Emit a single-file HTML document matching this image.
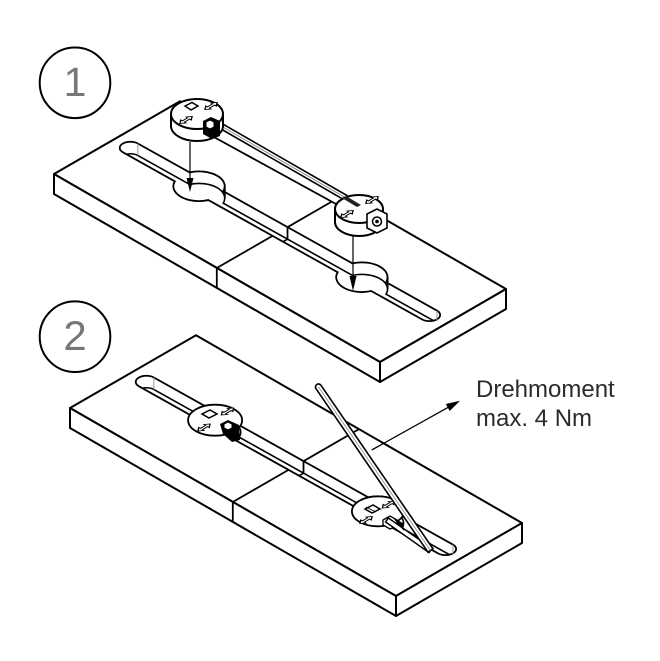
<!DOCTYPE html>
<html><head><meta charset="utf-8"><style>
html,body{margin:0;padding:0;background:#fff;width:660px;height:661px;overflow:hidden}
svg{display:block}
text{font-family:"Liberation Sans",Arial,sans-serif}
</style></head><body>
<svg width="660" height="661" viewBox="0 0 660 661" xmlns="http://www.w3.org/2000/svg">
<defs>
<clipPath id="hc"><path transform="matrix(0.866 0.5 0.866 -0.5 54 174) translate(18 70.2) rotate(0.945)" d="M0,8.7 L58.9,8.7 A21,21 0 0,0 97.1,8.7 L243.9,8.7 A21,21 0 0,0 282.1,8.7 L339.8,8.7 A8.7,8.7 0 0,0 339.8,-8.7 L282.1,-8.7 A21,21 0 0,0 243.9,-8.7 L97.1,-8.7 A21,21 0 0,0 58.9,-8.7 L0,-8.7 A8.7,8.7 0 0,0 0,8.7 Z"/></clipPath>
<path id="ag" d="M-7,0 L-3,-3 L-3,-1.2 L3,-1.2 L3,-3 L7,0 L3,3 L3,1.2 L-3,1.2 L-3,3 Z"/>
</defs>

<!-- circles with numbers -->
<circle cx="75" cy="82.8" r="35.3" fill="none" stroke="#000" stroke-width="2"/>
<text x="75" y="96" font-size="41" fill="#777" text-anchor="middle">1</text>
<circle cx="75" cy="336.7" r="35.3" fill="none" stroke="#000" stroke-width="2"/>
<text x="75" y="350" font-size="42" fill="#777" text-anchor="middle">2</text>

<!-- ================= PANEL 1 ================= -->
<g fill="#fff" stroke="#000" stroke-width="2" stroke-linejoin="round">
<polygon points="54,174 180,101.3 506,289 380,362"/>
<polygon points="54,174 380,362 380,382 54,194"/>
<polygon points="380,362 506,289 506,309 380,382"/>
</g>
<path transform="matrix(0.866 0.5 0.866 -0.5 54 174) translate(18 70.2) rotate(0.945)" vector-effect="non-scaling-stroke" fill="#fff" stroke="#000" stroke-width="1.8" d="M0,8.7 L58.9,8.7 A21,21 0 0,0 97.1,8.7 L243.9,8.7 A21,21 0 0,0 282.1,8.7 L339.8,8.7 A8.7,8.7 0 0,0 339.8,-8.7 L282.1,-8.7 A21,21 0 0,0 243.9,-8.7 L97.1,-8.7 A21,21 0 0,0 58.9,-8.7 L0,-8.7 A8.7,8.7 0 0,0 0,8.7 Z"/>
<g clip-path="url(#hc)">
<path transform="translate(0 12) matrix(0.866 0.5 0.866 -0.5 54 174) translate(18 70.2) rotate(0.945)" vector-effect="non-scaling-stroke" fill="none" stroke="#000" stroke-width="1.6" d="M0,8.7 L58.9,8.7 A21,21 0 0,0 97.1,8.7 L243.9,8.7 A21,21 0 0,0 282.1,8.7 L339.8,8.7 A8.7,8.7 0 0,0 339.8,-8.7 L282.1,-8.7 A21,21 0 0,0 243.9,-8.7 L97.1,-8.7 A21,21 0 0,0 58.9,-8.7 L0,-8.7 A8.7,8.7 0 0,0 0,8.7 Z"/>
<line x1="287.5" y1="239.2" x2="272" y2="248" stroke="#000" stroke-width="1.6"/>
</g>
<g stroke="#000" stroke-width="1.8" fill="none">
<line x1="224.8" y1="186.2" x2="224.8" y2="198.2"/>
<line x1="387.6" y1="277.3" x2="387.6" y2="289.3"/>
<line x1="216.8" y1="268" x2="216.8" y2="288"/>
<line x1="216.8" y1="268" x2="272.5" y2="235.9"/>
<line x1="287.5" y1="227.2" x2="331.7" y2="201.6"/>
<line x1="287.5" y1="227.2" x2="287.5" y2="239.2"/>
<line x1="212" y1="136" x2="336" y2="204"/>
</g>
<g stroke="#999" stroke-width="1">
<line x1="137.8" y1="143.5" x2="137.8" y2="155.5"/>
<line x1="436.9" y1="310.6" x2="436.9" y2="321"/>
</g>
<!-- rod -->
<polygon points="221,123 347,195.5 347,201.5 221,129" fill="#fff" stroke="#000" stroke-width="1.6"/>
<line x1="221" y1="126" x2="347" y2="198.5" stroke="#777" stroke-width="0.8"/>

<!-- puck 1 -->
<path d="M171,114 L171,126 A26,15 0 0,0 223,126 L223,114" fill="#fff" stroke="#000" stroke-width="2"/>
<ellipse cx="197" cy="114" rx="26" ry="15" fill="#fff" stroke="#000" stroke-width="2"/>
<polygon points="203,121 211,117 220,121 220,136 212,139 203,134" fill="#000"/>
<polygon points="206,122 210,120 214,122 214,127 210,129 206,127" fill="#fff" stroke="#000" stroke-width="1"/>
<polygon points="185,106 192,102.5 198,106 191,110" fill="#fff" stroke="#000" stroke-width="1.5"/>
<use href="#ag" transform="translate(211 106) matrix(0.87 -0.5 0.87 0.5 0 0)" fill="#fff" stroke="#000" stroke-width="1.1"/>
<use href="#ag" transform="translate(186 120) matrix(0.87 -0.5 0.87 0.5 0 0)" fill="#fff" stroke="#000" stroke-width="1.1"/>

<!-- puck 2 -->
<path d="M335,209 L335,222 A24,14 0 0,0 383,222 L383,209" fill="#fff" stroke="#000" stroke-width="2"/>
<ellipse cx="359" cy="209" rx="24" ry="14" fill="#fff" stroke="#000" stroke-width="2"/>
<polygon points="342,198 346,196 361,205 357,207" fill="#222"/>
<use href="#ag" transform="translate(372 200) matrix(0.87 -0.5 0.87 0.5 0 0)" fill="#fff" stroke="#000" stroke-width="1.1"/>
<use href="#ag" transform="translate(347 214) matrix(0.87 -0.5 0.87 0.5 0 0)" fill="#fff" stroke="#000" stroke-width="1.1"/>
<polygon points="367,214 377,209 387,214 387,228 377,233 367,228" fill="#fff" stroke="#000" stroke-width="1.6"/>
<circle cx="377" cy="221.5" r="4.5" fill="#fff" stroke="#000" stroke-width="1.5"/>
<circle cx="377" cy="221.5" r="1.8" fill="#000"/>

<!-- arrows panel 1 -->
<line x1="190" y1="142" x2="190" y2="180" stroke="#000" stroke-width="1.2"/>
<polygon points="186.5,178 193.5,178 190,192" fill="#000"/>
<line x1="353" y1="236" x2="353" y2="278" stroke="#000" stroke-width="1.2"/>
<polygon points="349.5,276 356.5,276 353,291" fill="#000"/>

<!-- ================= PANEL 2 ================= -->
<g transform="translate(16 234)">
<g fill="#fff" stroke="#000" stroke-width="2" stroke-linejoin="round">
<polygon points="54,174 180,101.3 506,289 380,362"/>
<polygon points="54,174 380,362 380,382 54,194"/>
<polygon points="380,362 506,289 506,309 380,382"/>
</g>
<path transform="matrix(0.866 0.5 0.866 -0.5 54 174) translate(18 70.2) rotate(0.945)" vector-effect="non-scaling-stroke" fill="#fff" stroke="#000" stroke-width="1.8" d="M0,8.7 L58.9,8.7 A21,21 0 0,0 97.1,8.7 L243.9,8.7 A21,21 0 0,0 282.1,8.7 L339.8,8.7 A8.7,8.7 0 0,0 339.8,-8.7 L282.1,-8.7 A21,21 0 0,0 243.9,-8.7 L97.1,-8.7 A21,21 0 0,0 58.9,-8.7 L0,-8.7 A8.7,8.7 0 0,0 0,8.7 Z"/>
<g clip-path="url(#hc)">
<path transform="translate(0 12) matrix(0.866 0.5 0.866 -0.5 54 174) translate(18 70.2) rotate(0.945)" vector-effect="non-scaling-stroke" fill="none" stroke="#000" stroke-width="1.6" d="M0,8.7 L58.9,8.7 A21,21 0 0,0 97.1,8.7 L243.9,8.7 A21,21 0 0,0 282.1,8.7 L339.8,8.7 A8.7,8.7 0 0,0 339.8,-8.7 L282.1,-8.7 A21,21 0 0,0 243.9,-8.7 L97.1,-8.7 A21,21 0 0,0 58.9,-8.7 L0,-8.7 A8.7,8.7 0 0,0 0,8.7 Z"/>
<line x1="287.5" y1="239.2" x2="272" y2="248" stroke="#000" stroke-width="1.6"/>
</g>
<g stroke="#000" stroke-width="1.8" fill="none">
<line x1="216.8" y1="268" x2="216.8" y2="288"/>
<line x1="216.8" y1="268" x2="272.5" y2="235.9"/>
<line x1="287.5" y1="227.2" x2="343.2" y2="195"/>
<line x1="287.5" y1="227.2" x2="287.5" y2="239.2"/>
</g>
<g stroke="#999" stroke-width="1">
<line x1="137.8" y1="143.5" x2="137.8" y2="155.5"/>
<line x1="436.9" y1="310.6" x2="436.9" y2="321"/>
</g>
<!-- left puck (inserted) -->
<ellipse cx="199.1" cy="186.2" rx="27" ry="15.5" fill="#fff" stroke="#000" stroke-width="1.8"/>
<polygon points="204,190 212,186 223,191 224,206 216,208 207,200" fill="#000"/>
<polygon points="208,190 212,188 216,190 216,194 212,196 208,194" fill="#fff" stroke="#000" stroke-width="1"/>
<polygon points="186,180 194,176 201,180 193,184" fill="#fff" stroke="#000" stroke-width="1.5"/>
<use href="#ag" transform="translate(211.5 177.5) matrix(0.87 -0.5 0.87 0.5 0 0)" fill="#fff" stroke="#000" stroke-width="1.1"/>
<use href="#ag" transform="translate(188 193.5) matrix(0.87 -0.5 0.87 0.5 0 0)" fill="#fff" stroke="#000" stroke-width="1.1"/>
<!-- right puck (inserted) -->
<ellipse cx="361.9" cy="277.3" rx="26" ry="15" fill="#fff" stroke="#000" stroke-width="1.8"/>
<polygon points="349,275 357,271 364,275 356,279" fill="#fff" stroke="#000" stroke-width="1.5"/>
<line x1="350" y1="273" x2="360" y2="278" stroke="#000" stroke-width="0.8"/>
<use href="#ag" transform="translate(372.5 270.5) matrix(0.87 -0.5 0.87 0.5 0 0)" fill="#fff" stroke="#000" stroke-width="1.1"/>
<use href="#ag" transform="translate(350 286) matrix(0.87 -0.5 0.87 0.5 0 0)" fill="#fff" stroke="#000" stroke-width="1.1"/>
<polygon points="367,286 374,282 381,286 381,292 374,295 367,291" fill="#fff" stroke="#000" stroke-width="1.3"/>
</g>

<!-- hex key -->
<path d="M385.6,522 L388.4,518 L432,548.5 L429,552.6 Z" fill="#fff" stroke="#000" stroke-width="1.5"/>
<polygon points="393,518 403,523 404,531" fill="#000"/>
<path d="M316,388.7 A3,3 0 0,1 321,385.3 L433,548.8 L428,552.2 Z" fill="#fff" stroke="#000" stroke-width="1.6"/>
<line x1="318.5" y1="387" x2="430.5" y2="550.5" stroke="#888" stroke-width="0.8"/>

<!-- torque arrow + text -->
<line x1="371.7" y1="450" x2="450" y2="406.3" stroke="#000" stroke-width="1.3"/>
<polygon points="460,400.7 449.7,411 445.8,404" fill="#000"/>
<text x="476" y="397" font-size="24" fill="#2b2b2b">Drehmoment</text>
<text x="476" y="426" font-size="24" fill="#2b2b2b">max. 4 Nm</text>
</svg>
</body></html>
